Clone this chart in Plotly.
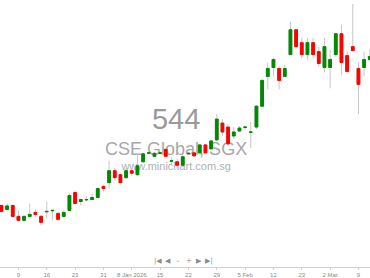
import plotly.graph_objects as go

# ---- data -------------------------------------------------------------
dates = [
    "2025-12-04", "2025-12-05", "2025-12-08", "2025-12-09", "2025-12-10", "2025-12-11",
    "2025-12-12", "2025-12-15", "2025-12-16", "2025-12-17", "2025-12-18", "2025-12-19",
    "2025-12-22", "2025-12-23", "2025-12-24", "2025-12-26", "2025-12-29", "2025-12-30",
    "2025-12-31", "2026-01-02", "2026-01-05", "2026-01-06", "2026-01-07", "2026-01-08",
    "2026-01-09", "2026-01-12", "2026-01-13", "2026-01-14", "2026-01-15", "2026-01-16",
    "2026-01-19", "2026-01-20", "2026-01-21", "2026-01-22", "2026-01-23", "2026-01-26",
    "2026-01-27", "2026-01-28", "2026-01-29", "2026-01-30", "2026-02-02", "2026-02-03",
    "2026-02-04", "2026-02-05", "2026-02-06", "2026-02-09", "2026-02-10", "2026-02-11",
    "2026-02-12", "2026-02-13", "2026-02-16", "2026-02-19", "2026-02-20", "2026-02-23",
    "2026-02-24", "2026-02-25", "2026-02-26", "2026-02-27", "2026-03-02", "2026-03-03",
    "2026-03-04", "2026-03-05", "2026-03-06", "2026-03-09", "2026-03-10", "2026-03-11",
]

open_ = [
    0.8825, 0.8725, 0.8825, 0.855, 0.845, 0.855, 0.865, 0.855, 0.8665, 0.869,
    0.8625, 0.855, 0.87, 0.915, 0.8925, 0.8965, 0.8975, 0.9025, 0.93, 0.94,
    0.97, 0.96, 0.9525, 0.97, 0.96, 0.9925, 1.014, 1.0063, 1.014, 1.0238,
    0.994, 0.9925, 0.9838, 1.0128, 1.015, 1.015, 1.035, 1.025, 1.0475, 1.09,
    1.08, 1.0575, 1.07, 1.079, 1.0665, 1.08, 1.1325, 1.2075, 1.23, 1.2275,
    1.2075, 1.2625, 1.325, 1.2925, 1.2625, 1.2925, 1.27, 1.23, 1.23, 1.2625,
    1.315, 1.26, 1.2825, 1.2275, 1.23, 1.25,
]
high = [
    0.885, 0.8875, 0.885, 0.87, 0.8575, 0.8875, 0.8725, 0.8575, 0.8925, 0.8725,
    0.865, 0.87, 0.9125, 0.92, 0.90, 0.905, 0.9125, 0.9275, 0.935, 0.995,
    0.9775, 0.9625, 0.9775, 0.975, 1.0125, 1.015, 1.0175, 1.0175, 1.0175, 1.0275,
    1.0025, 1.00, 1.01, 1.0175, 1.0175, 1.0375, 1.0375, 1.0475, 1.1125, 1.10,
    1.0875, 1.08, 1.0825, 1.0825, 1.0925, 1.135, 1.20, 1.2425, 1.255, 1.2325,
    1.2375, 1.345, 1.325, 1.305, 1.305, 1.305, 1.2825, 1.305, 1.275, 1.3175,
    1.3375, 1.27, 1.39, 1.2425, 1.27, 1.275,
]
low = [
    0.865, 0.8675, 0.8525, 0.8425, 0.8425, 0.8525, 0.855, 0.8325, 0.85, 0.845,
    0.845, 0.8525, 0.87, 0.885, 0.8825, 0.8925, 0.895, 0.90, 0.9175, 0.925,
    0.945, 0.935, 0.95, 0.9575, 0.9575, 0.99, 1.0125, 1.005, 1.0125, 1.005,
    0.9825, 0.975, 0.98, 1.01, 1.005, 1.0125, 1.0125, 1.0225, 1.0475, 1.0575,
    1.0325, 1.05, 1.0675, 1.0725, 1.0275, 1.075, 1.13, 1.175, 1.2075, 1.175,
    1.2075, 1.2625, 1.28, 1.2525, 1.25, 1.2525, 1.2325, 1.2175, 1.1775, 1.2575,
    1.21, 1.215, 1.2725, 1.1125, 1.2075, 1.245,
]
close = [
    0.8675, 0.8813, 0.855, 0.845, 0.855, 0.86, 0.86, 0.84, 0.8675, 0.87,
    0.8475, 0.865, 0.9075, 0.8875, 0.8975, 0.8975, 0.9025, 0.925, 0.925, 0.97,
    0.9525, 0.94, 0.97, 0.9638, 0.9825, 1.0125, 1.015, 1.0138, 1.015, 1.0063,
    0.995, 0.9838, 1.005, 1.0138, 1.0075, 1.035, 1.015, 1.045, 1.10, 1.0675,
    1.0375, 1.0675, 1.0775, 1.08, 1.0675, 1.1325, 1.1975, 1.2275, 1.25, 1.1975,
    1.2275, 1.325, 1.2825, 1.2625, 1.2925, 1.2625, 1.24, 1.2825, 1.25, 1.315,
    1.2425, 1.22, 1.2725, 1.1875, 1.25, 1.2575,
]

tick_dates = [
    "2025-12-09", "2025-12-16", "2025-12-23", "2025-12-31", "2026-01-08", "2026-01-15",
    "2026-01-22", "2026-01-29", "2026-02-05", "2026-02-12", "2026-02-23", "2026-03-02",
    "2026-03-09",
]
tick_labels = ["9", "16", "23", "31", "8 Jan 2026", "15", "22", "29", "5 Feb", "12",
               "23", "2 Mar", "9"]

watermark_code = "544"
watermark_name = "CSE Global, SGX"
watermark_site = "www.minichart.com.sg"
nav_buttons = ["|◀", "◀", "–", "+", "▶", "▶|"]

# ---- styles -----------------------------------------------------------
UP = "#008a00"
DOWN = "#ff0000"
WICK = "#c6c6c6"

body_hi = [max(o, c) for o, c in zip(open_, close)]
body_lo = [min(o, c) for o, c in zip(open_, close)]

fig = go.Figure()

# wicks (grey)
fig.add_trace(go.Candlestick(
    x=dates, open=open_, high=high, low=low, close=close,
    increasing=dict(line=dict(color=WICK, width=1), fillcolor=UP),
    decreasing=dict(line=dict(color=WICK, width=1), fillcolor=DOWN),
    hoverinfo="skip", showlegend=False,
))
# bodies (coloured)
fig.add_trace(go.Candlestick(
    x=dates, open=open_, high=body_hi, low=body_lo, close=close,
    increasing=dict(line=dict(color=UP, width=1), fillcolor=UP),
    decreasing=dict(line=dict(color=DOWN, width=1), fillcolor=DOWN),
    hoverinfo="skip", showlegend=False,
))

# watermark as shape labels drawn below the candles
def wm(text, yc, size, color):
    fig.add_shape(type="rect", xref="paper", yref="paper",
                  x0=0.276, x1=0.676, y0=yc - 0.05, y1=yc + 0.05,
                  line=dict(width=0), fillcolor="rgba(0,0,0,0)", layer="below",
                  label=dict(text=text, textposition="middle center",
                             font=dict(size=size, color=color,
                                       family="Liberation Sans, Arial, sans-serif")))

wm(watermark_code, 0.566, 29, "#9a9a9a")
wm(watermark_name, 0.450, 18, "#a8a8a8")
wm(watermark_site, 0.383, 11, "#b0b0b0")

for i, b in enumerate(nav_buttons):
    fig.add_annotation(xref="paper", yref="paper", x=(158 + 10.2 * i) / 370, y=0.023,
                       text=b, showarrow=False,
                       font=dict(size=7, color="#8a8a8a", family="DejaVu Sans"),
                       xanchor="center", yanchor="middle")

fig.update_layout(
    width=370, height=278,
    margin=dict(l=0, r=0, t=0, b=9),
    paper_bgcolor="white", plot_bgcolor="white",
    showlegend=False,
    xaxis=dict(type="category", range=[-0.25, 65.04],
               rangeslider=dict(visible=False),
               tickmode="array", tickvals=tick_dates, ticktext=tick_labels,
               showgrid=False, zeroline=False,
               showline=True, linecolor="#d0d0d0", linewidth=1,
               ticks="outside", ticklen=2, tickcolor="#d0d0d0",
               tickangle=0,
               tickfont=dict(size=6, color="#8a8a8a",
                             family="Liberation Sans, Arial, sans-serif")),
    yaxis=dict(range=[0.7275, 1.40], visible=False, showgrid=False, zeroline=False,
               fixedrange=True),
)

fig.write_html("out.html")
